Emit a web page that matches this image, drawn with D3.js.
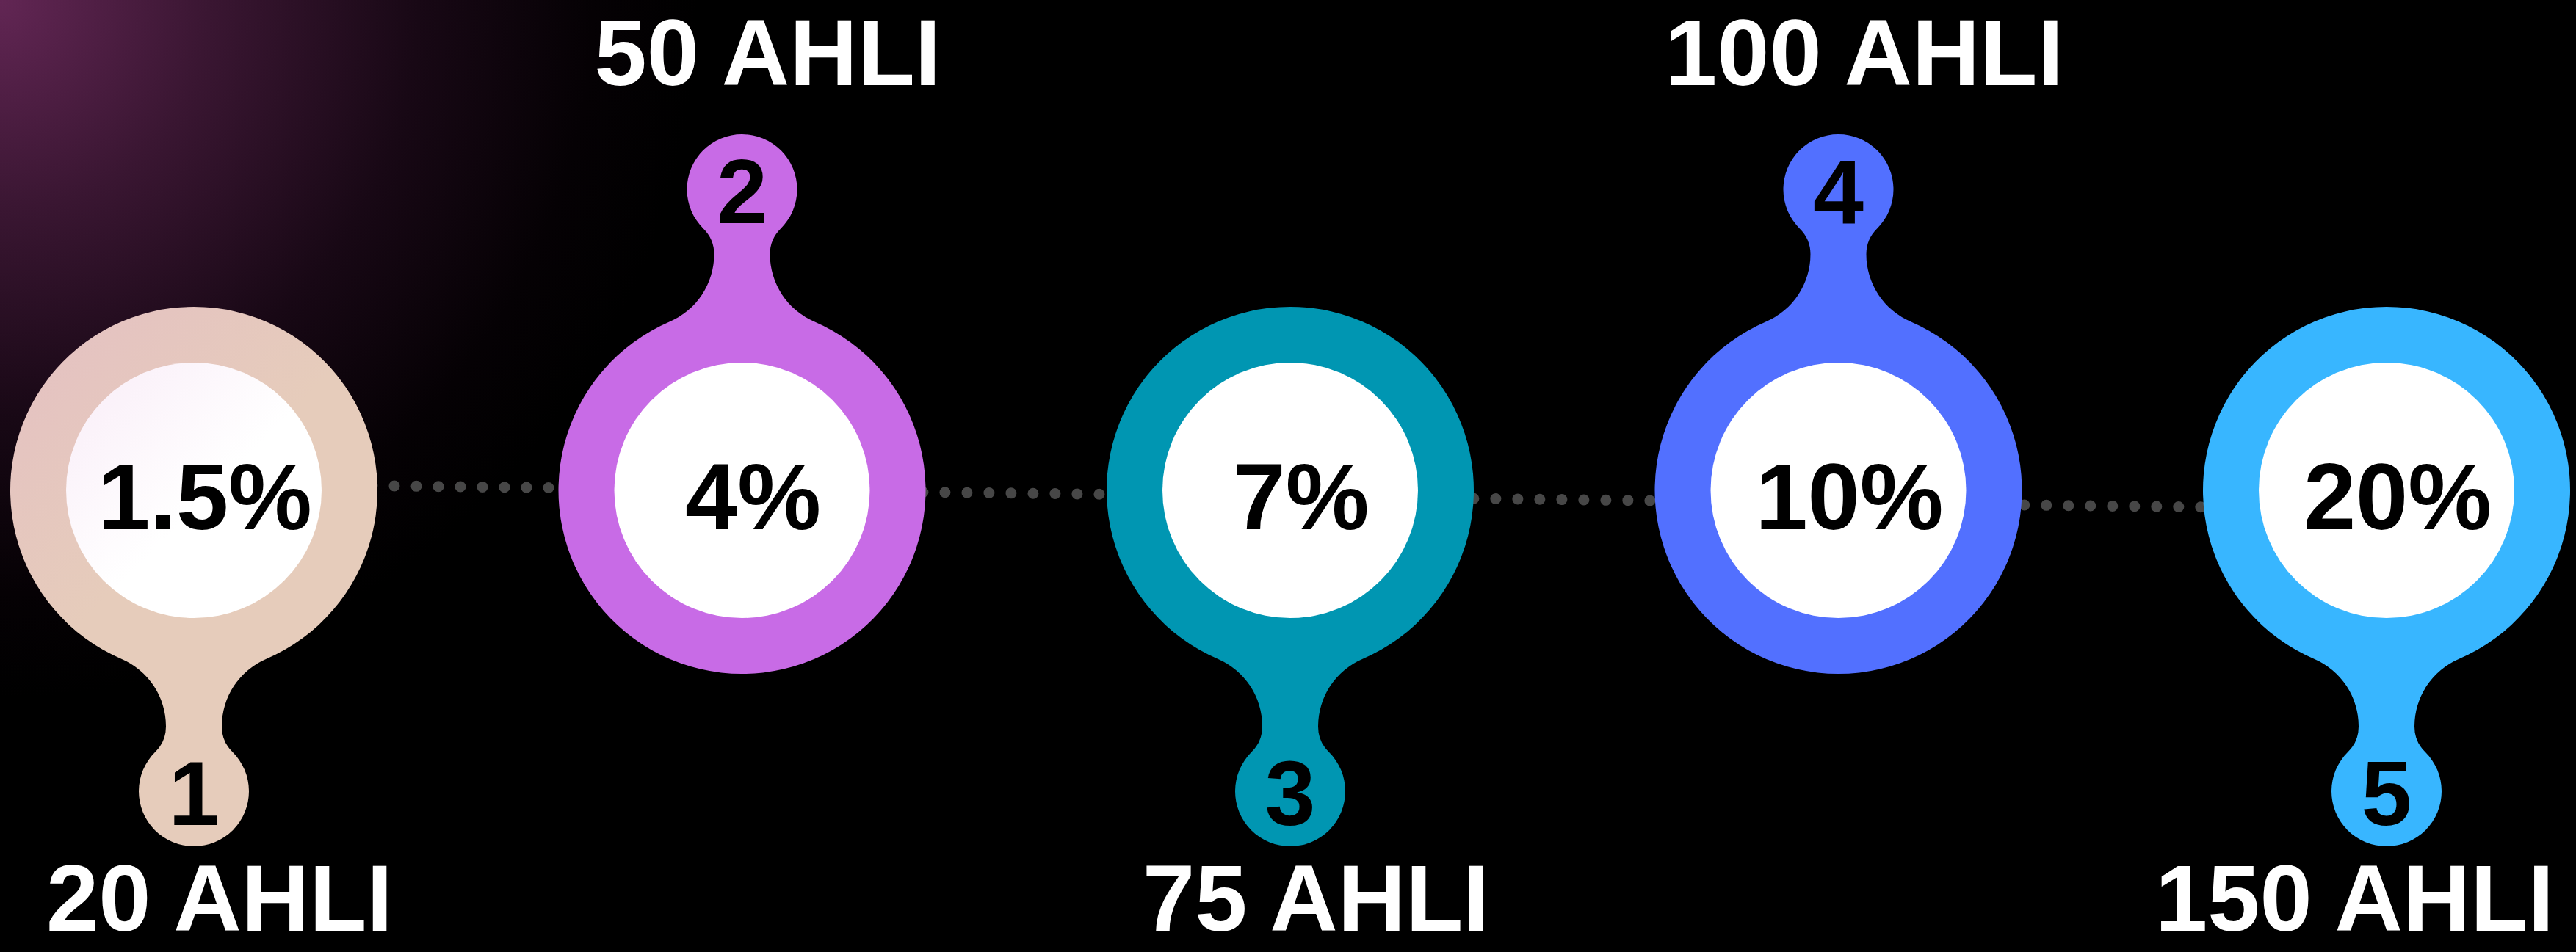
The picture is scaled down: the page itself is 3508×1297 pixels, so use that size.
<!DOCTYPE html>
<html>
<head>
<meta charset="utf-8">
<script src="https://cdn.jsdelivr.net/npm/d3@7"></script>
<style>
  html, body { margin: 0; padding: 0; background: #000; }
  svg { display: block; }
</style>
</head>
<body>
<svg id="chart"></svg>
<script>
// Tiers of the programme
const steps = ["1", "2", "3", "4", "5"];
const members = [20, 50, 75, 100, 150];
const rates = [1.5, 4, 7, 10, 20];
const palette = ["#E6CCBB", "#C86BE6", "#0096B2", "#5270FF", "#38B6FF"];

const width = 3508, height = 1297;

const svg = d3.select("#chart")
  .attr("width", width)
  .attr("height", height);

// Scales
const x = d3.scalePoint().domain(steps).range([264, 3250]);
const color = d3.scaleOrdinal(steps, palette);
const fmtRate = d => `${d}%`;

// Shape geometry (big ring, neck, small bubble)
const R = 250, rIn = 174, r = 75, D = 410, w = 38, f1 = 100;
const cy = 668;
const y1 = Math.sqrt((R + f1) ** 2 - (w + f1) ** 2);
const y2 = y1;
const f2 = ((D - y2) ** 2 + w * w - r * r) / (2 * (r - w));

// Builds the outline of one bubble, neck pointing down (dir 1) or up (dir -1)
function bubble(cx, dir) {
  const p = (px, py) => `${cx + px},${cy + dir * py}`;
  const s = f => dir > 0 ? f : 1 - f;
  const k1 = R / (R + f1);
  const p1 = [(w + f1) * k1, y1 * k1];
  const p2 = [r * (w + f2) / (r + f2), D + r * (y2 - D) / (r + f2)];
  return [
    `M${p(p1[0], p1[1])}`,
    `A${R},${R} 0 1 ${s(0)} ${p(-p1[0], p1[1])}`,
    `A${f1},${f1} 0 0 ${s(1)} ${p(-w, y1)}`,
    `L${p(-w, y2)}`,
    `A${f2},${f2} 0 0 ${s(1)} ${p(-p2[0], p2[1])}`,
    `A${r},${r} 0 1 ${s(0)} ${p(p2[0], p2[1])}`,
    `A${f2},${f2} 0 0 ${s(1)} ${p(w, y2)}`,
    `L${p(w, y1)}`,
    `A${f1},${f1} 0 0 ${s(1)} ${p(p1[0], p1[1])}`,
    "Z"
  ].join(" ");
}

const rows = steps.map((s, i) => ({
  step: s,
  members: members[i],
  rate: rates[i],
  dir: i % 2 === 0 ? 1 : -1
}));

// Gradients: the corner glow and its pink cast on nearby shapes
const defs = svg.append("defs");
const glow = defs.append("radialGradient")
  .attr("id", "glow")
  .attr("gradientUnits", "userSpaceOnUse")
  .attr("cx", 0).attr("cy", 0).attr("r", 950);
[[0, "rgb(98,38,84)"], [0.3, "rgb(58,22,50)"], [0.6, "rgb(24,8,21)"], [0.85, "rgb(5,1,4)"], [1, "#000"]]
  .forEach(([o, c]) => glow.append("stop").attr("offset", o).attr("stop-color", c));

const tintColor = "#e0a0d8";
function tint(id, base) {
  const g = defs.append("linearGradient")
    .attr("id", id)
    .attr("gradientUnits", "userSpaceOnUse")
    .attr("x1", 0).attr("y1", 0).attr("x2", 800).attr("y2", 800);
  g.append("stop").attr("offset", 0).attr("stop-color", d3.interpolateRgb(base, tintColor)(0.5));
  g.append("stop").attr("offset", 0.6).attr("stop-color", base);
}
rows.forEach(d => tint(`tint-${d.step}`, color(d.step)));
tint("tint-white", "#ffffff");

svg.append("rect")
  .attr("width", width).attr("height", height)
  .attr("fill", "url(#glow)");

// Dotted connector behind the bubbles
const dotY = d3.scaleLinear().domain([537, 2757]).range([662, 688]);
const x0 = 537 - 30 * 9, x1 = x(steps[steps.length - 1]);
svg.append("line")
  .attr("x1", x0).attr("y1", dotY(x0))
  .attr("x2", x1).attr("y2", dotY(x1))
  .attr("stroke", "#474747")
  .attr("stroke-width", 15)
  .attr("stroke-linecap", "round")
  .attr("stroke-dasharray", "0 30");

const font = "'Liberation Sans', Arial, Helvetica, sans-serif";

const g = svg.selectAll(".tier")
  .data(rows)
  .join("g")
    .attr("class", "tier");

g.append("path")
  .attr("d", d => bubble(x(d.step), d.dir))
  .attr("fill", d => `url(#tint-${d.step})`);

g.append("circle")
  .attr("cx", d => x(d.step))
  .attr("cy", cy)
  .attr("r", rIn)
  .attr("fill", "url(#tint-white)");

// Percentage inside the ring
g.append("text")
  .attr("x", d => x(d.step) + 15)
  .attr("y", cy + 53)
  .attr("text-anchor", "middle")
  .attr("font-family", font)
  .attr("font-weight", 700)
  .attr("font-size", 128)
  .attr("fill", "#000")
  .text(d => fmtRate(d.rate));

// Step number in the small bubble
g.append("text")
  .attr("x", d => x(d.step))
  .attr("y", d => cy + d.dir * D + 46)
  .attr("text-anchor", "middle")
  .attr("font-family", font)
  .attr("font-weight", 700)
  .attr("font-size", 124)
  .attr("fill", "#000")
  .text(d => d.step);

// Member count, above or below depending on bubble direction
g.append("text")
  .attr("y", d => d.dir > 0 ? 1268 : 116)
  .attr("text-anchor", "middle")
  .attr("font-family", font)
  .attr("font-weight", 700)
  .attr("font-size", 128)
  .attr("fill", "#fff")
  .text(d => `${d.members} AHLI`)
  .attr("x", function(d) {
    const half = this.getComputedTextLength() / 2;
    return Math.min(x(d.step) + 35, width - 30 - half);
  });
</script>
</body>
</html>
